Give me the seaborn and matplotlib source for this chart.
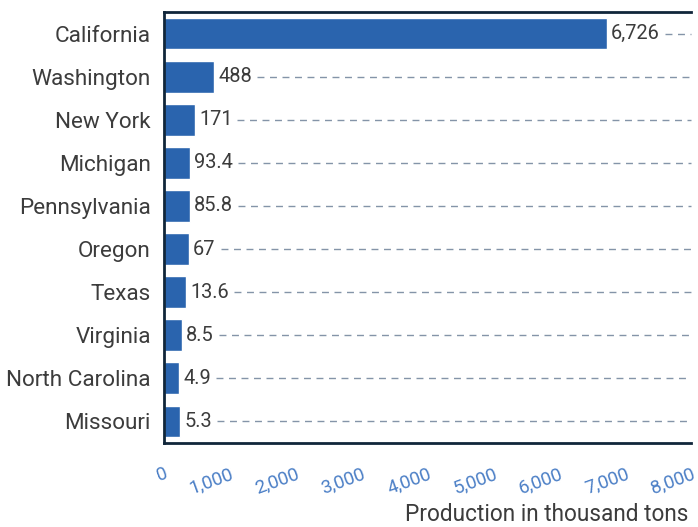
import pandas as pd
import seaborn as sns
import matplotlib.pyplot as plt
from matplotlib.transforms import offset_copy
from matplotlib.ticker import FuncFormatter

# data
states = ["California", "Washington", "New York", "Michigan", "Pennsylvania",
          "Oregon", "Texas", "Virginia", "North Carolina", "Missouri"]
production = [6726, 488, 171, 93.4, 85.8, 67, 13.6, 8.5, 4.9, 5.3]
value_labels = ["6,726", "488", "171", "93.4", "85.8", "67", "13.6", "8.5", "4.9", "5.3"]
# drawn bar lengths as seen in the picture (small bars are shown inflated)
bar_length = [6726, 760, 470, 395, 395, 380, 334, 273, 228, 243]
x_ticks = [0, 1000, 2000, 3000, 4000, 5000, 6000, 7000, 8000]

sns.set_style("white")
plt.rcParams['font.family'] = ['Roboto', 'DejaVu Sans']

bar_color = "#2a64ae"
tick_blue = "#4b7fc6"
text_grey = "#3c3c3c"
spine_col = "#10263a"
dash_col = "#8494a8"

df = pd.DataFrame({"state": states, "bar": bar_length, "production": production})

fig = plt.figure(figsize=(6.98, 5.27), dpi=100)
ax = fig.add_axes([164 / 698, 1 - 443 / 527, (691 - 164) / 698, (443 - 12) / 527])

sns.barplot(data=df, x="bar", y="state", color=bar_color, saturation=1,
            width=0.74, ax=ax)
ax.set_xlim(0, 8000)
ax.set_ylim(9.5, -0.5)

# value labels next to the bars
lbl_trans = offset_copy(ax.transData, fig=fig, x=4, y=0, units='dots')
texts = []
for i, (b, lab) in enumerate(zip(df["bar"], value_labels)):
    t = ax.text(b, i, lab, transform=lbl_trans, ha='left', va='center',
                fontsize=14.4, color=text_grey)
    texts.append(t)

# dashed leader lines from label to right edge
fig.canvas.draw()
renderer = fig.canvas.get_renderer()
inv = ax.transData.inverted()
for i, t in enumerate(texts):
    bb = t.get_window_extent(renderer)
    x0 = inv.transform((bb.x1 + 5, 0))[0]
    ax.plot([x0, 8000], [i, i], linestyle=(0, (5, 4)), color=dash_col,
            linewidth=1, clip_on=False)

# axes styling
for side in ["left", "top", "bottom"]:
    ax.spines[side].set_color(spine_col)
    ax.spines[side].set_linewidth(2)
ax.spines["right"].set_visible(False)

ax.set_xticks(x_ticks)
ax.xaxis.set_major_formatter(FuncFormatter(lambda v, p: f"{int(v):,}"))
ax.tick_params(axis='x', length=0, pad=15.5, labelsize=13.5, labelcolor=tick_blue)
ax.tick_params(axis='y', length=0, pad=9.5, labelsize=16.2, labelcolor=text_grey)
plt.setp(ax.get_xticklabels(), rotation=20, ha='right', rotation_mode='anchor')

ax.set_xlabel("")
ax.set_ylabel("")
fig.text(688 / 698, 1 - 521 / 527, "Production in thousand tons", ha='right',
         va='baseline', fontsize=16.3, color=text_grey)

plt.savefig("out.png", dpi=100)
